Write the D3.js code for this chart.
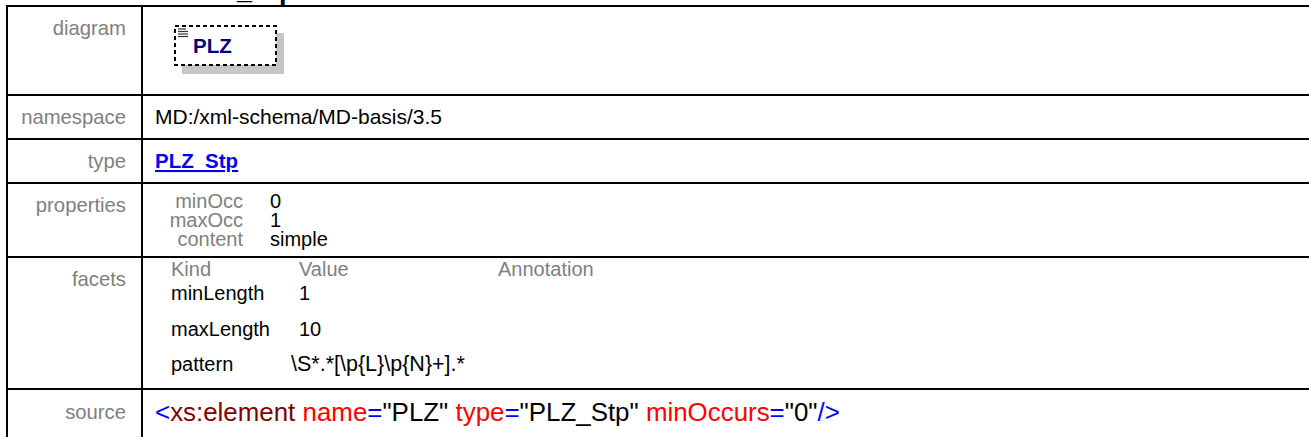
<!DOCTYPE html>
<html>
<head>
<meta charset="utf-8">
<script src="https://cdn.jsdelivr.net/npm/d3@7"></script>
<style>
  html, body { margin: 0; padding: 0; background: #fff; }
  svg { display: block; }
  text { font-family: "Liberation Sans", Arial, sans-serif; }
</style>
</head>
<body>
<svg id="chart" width="1309" height="437"></svg>
<script>
// ---------- data ----------
const headingText = "element Anschrift_Stp/PLZ";
const rowLabels = ["diagram", "namespace", "type", "properties", "facets", "source"];
const elementName = "PLZ";
const namespaceValue = "MD:/xml-schema/MD-basis/3.5";
const typeValue = "PLZ_Stp";
const propertyKeys = ["minOcc", "maxOcc", "content"];
const propertyValues = ["0", "1", "simple"];
const facetHeaders = ["Kind", "Value", "Annotation"];
const facetKinds = ["minLength", "maxLength", "pattern"];
const facetValues = ["1", "10", "\\S*.*[\\p{L}\\p{N}+].*"];
const sourceTokens = [
  ["<", "bracket"], ["xs:element", "tag"], [" name", "attr"], ["=", "bracket"], ["\"PLZ\"", "val"],
  [" type", "attr"], ["=", "bracket"], ["\"PLZ_Stp\"", "val"],
  [" minOccurs", "attr"], ["=", "bracket"], ["\"0\"", "val"], ["/>", "bracket"]
];

// ---------- layout ----------
const W = 1309, H = 437;
const rowEdges = [6, 95, 139, 183, 257, 389, 470];
const leftX = 7, divX = 142, rightX = 1312;
const labelRight = 126, valueX = 155;
const labelBase = [35, 124, 168, 212, 286, 419];
const gray = "#808080";
const tokenColor = { bracket: "#0000ff", tag: "#800000", attr: "#ff0000", val: "#000000" };

const svg = d3.select("#chart");

// heading (mostly cut off above the view)
const head = svg.append("text")
  .attr("y", -1)
  .attr("font-size", 27)
  .attr("font-weight", "bold")
  .attr("fill", "#000")
  .text(headingText);
const uIdx = headingText.indexOf("_");
const preW = head.node().getSubStringLength(0, uIdx);
head.attr("x", 237 - preW);

// grid lines
const grid = svg.append("g").attr("stroke", "#000").attr("stroke-width", 2);
grid.selectAll("line.h").data(rowEdges.slice(0, -1)).join("line")
  .attr("class", "h")
  .attr("x1", leftX - 1).attr("x2", rightX)
  .attr("y1", d => d).attr("y2", d => d);
grid.append("line").attr("x1", leftX).attr("x2", leftX).attr("y1", rowEdges[0]).attr("y2", H + 10);
grid.append("line").attr("x1", divX).attr("x2", divX).attr("y1", rowEdges[0]).attr("y2", H + 10);
grid.append("line").attr("x1", rightX).attr("x2", rightX).attr("y1", rowEdges[0]).attr("y2", H + 10);

// row labels
svg.append("g").selectAll("text").data(rowLabels).join("text")
  .attr("x", labelRight)
  .attr("y", (d, i) => labelBase[i])
  .attr("text-anchor", "end")
  .attr("font-size", 20.3)
  .attr("fill", gray)
  .text(d => d);

// diagram cell
const dg = svg.append("g");
dg.append("rect").attr("x", 182).attr("y", 33).attr("width", 102).attr("height", 41).attr("fill", "#c6c6c6");
dg.append("rect").attr("x", 175).attr("y", 26).attr("width", 101).attr("height", 39)
  .attr("fill", "#fff").attr("stroke", "#000").attr("stroke-width", 2).attr("stroke-dasharray", "4,3");
dg.selectAll("line.icon").data([0, 1, 2, 3]).join("line")
  .attr("class", "icon")
  .attr("x1", 178).attr("x2", (d, i) => i === 0 ? 186 : 188)
  .attr("y1", d => 29 + d * 2.5).attr("y2", d => 29 + d * 2.5)
  .attr("stroke", "#333").attr("stroke-width", 1.2);
dg.append("text").attr("x", 193).attr("y", 53)
  .attr("font-size", 20.5).attr("font-weight", "bold").attr("fill", "#000080")
  .text(elementName);

// namespace
svg.append("text").attr("x", valueX).attr("y", labelBase[1])
  .attr("font-size", 21).attr("fill", "#000").text(namespaceValue);

// type link
svg.append("text").attr("x", valueX).attr("y", labelBase[2])
  .attr("font-size", 20.5).attr("font-weight", "bold").attr("fill", "#0000ee")
  .attr("text-decoration", "underline").text(typeValue);

// properties
const propBase = [208, 227, 246];
const pg = svg.append("g");
pg.selectAll("text.k").data(propertyKeys).join("text").attr("class", "k")
  .attr("x", 243).attr("y", (d, i) => propBase[i]).attr("text-anchor", "end")
  .attr("font-size", 20).attr("fill", gray).text(d => d);
pg.selectAll("text.v").data(propertyValues).join("text").attr("class", "v")
  .attr("x", 270).attr("y", (d, i) => propBase[i])
  .attr("font-size", 20).attr("fill", "#000").text(d => d);

// facets
const facetCols = [171, 299, 498];
const facetBase = [300, 336, 371];
const fg = svg.append("g");
fg.selectAll("text.h").data(facetHeaders).join("text").attr("class", "h")
  .attr("x", (d, i) => facetCols[i]).attr("y", 276)
  .attr("font-size", 20).attr("fill", gray).text(d => d);
fg.selectAll("text.k").data(facetKinds).join("text").attr("class", "k")
  .attr("x", facetCols[0]).attr("y", (d, i) => facetBase[i])
  .attr("font-size", 20).attr("fill", "#000").text(d => d);
fg.selectAll("text.v").data(facetValues).join("text").attr("class", "v")
  .attr("x", (d, i) => i === 2 ? 291 : facetCols[1]).attr("y", (d, i) => facetBase[i])
  .attr("font-size", (d, i) => i === 2 ? 21.5 : 20).attr("fill", "#000").text(d => d);

// source
const st = svg.append("text").attr("x", valueX).attr("y", 421)
  .attr("font-size", 25.9).attr("xml:space", "preserve").style("white-space", "pre");
st.selectAll("tspan").data(sourceTokens).join("tspan")
  .attr("fill", d => tokenColor[d[1]])
  .text(d => d[0]);
</script>
</body>
</html>
